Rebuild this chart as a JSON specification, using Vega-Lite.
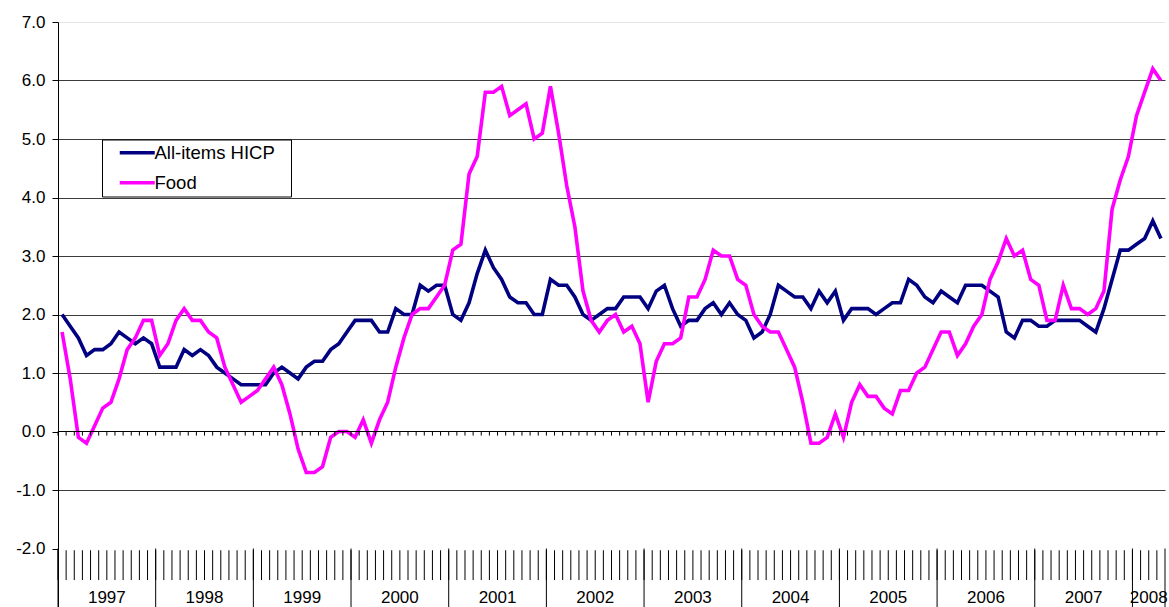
{
"$schema":"https://vega.github.io/schema/vega-lite/v6.json",
"width":1107,"height":585,
"autosize":{"type":"none"},
"padding":{"left":58,"top":22,"right":4,"bottom":0},
"background":"#ffffff",
"config":{"view":{"stroke":null},"font":"Liberation Sans"},
"datasets":{
"months":[
{"m":"1997-01","All-items HICP":2.0,"Food":1.7},{"m":"1997-02","All-items HICP":1.8,"Food":0.9},{"m":"1997-03","All-items HICP":1.6,"Food":-0.1},{"m":"1997-04","All-items HICP":1.3,"Food":-0.2},{"m":"1997-05","All-items HICP":1.4,"Food":0.1},{"m":"1997-06","All-items HICP":1.4,"Food":0.4},{"m":"1997-07","All-items HICP":1.5,"Food":0.5},{"m":"1997-08","All-items HICP":1.7,"Food":0.9},{"m":"1997-09","All-items HICP":1.6,"Food":1.4},{"m":"1997-10","All-items HICP":1.5,"Food":1.6},{"m":"1997-11","All-items HICP":1.6,"Food":1.9},{"m":"1997-12","All-items HICP":1.5,"Food":1.9},
{"m":"1998-01","All-items HICP":1.1,"Food":1.3},{"m":"1998-02","All-items HICP":1.1,"Food":1.5},{"m":"1998-03","All-items HICP":1.1,"Food":1.9},{"m":"1998-04","All-items HICP":1.4,"Food":2.1},{"m":"1998-05","All-items HICP":1.3,"Food":1.9},{"m":"1998-06","All-items HICP":1.4,"Food":1.9},{"m":"1998-07","All-items HICP":1.3,"Food":1.7},{"m":"1998-08","All-items HICP":1.1,"Food":1.6},{"m":"1998-09","All-items HICP":1.0,"Food":1.1},{"m":"1998-10","All-items HICP":0.9,"Food":0.8},{"m":"1998-11","All-items HICP":0.8,"Food":0.5},{"m":"1998-12","All-items HICP":0.8,"Food":0.6},
{"m":"1999-01","All-items HICP":0.8,"Food":0.7},{"m":"1999-02","All-items HICP":0.8,"Food":0.9},{"m":"1999-03","All-items HICP":1.0,"Food":1.1},{"m":"1999-04","All-items HICP":1.1,"Food":0.8},{"m":"1999-05","All-items HICP":1.0,"Food":0.3},{"m":"1999-06","All-items HICP":0.9,"Food":-0.3},{"m":"1999-07","All-items HICP":1.1,"Food":-0.7},{"m":"1999-08","All-items HICP":1.2,"Food":-0.7},{"m":"1999-09","All-items HICP":1.2,"Food":-0.6},{"m":"1999-10","All-items HICP":1.4,"Food":-0.1},{"m":"1999-11","All-items HICP":1.5,"Food":0.0},{"m":"1999-12","All-items HICP":1.7,"Food":0.0},
{"m":"2000-01","All-items HICP":1.9,"Food":-0.1},{"m":"2000-02","All-items HICP":1.9,"Food":0.2},{"m":"2000-03","All-items HICP":1.9,"Food":-0.2},{"m":"2000-04","All-items HICP":1.7,"Food":0.2},{"m":"2000-05","All-items HICP":1.7,"Food":0.5},{"m":"2000-06","All-items HICP":2.1,"Food":1.1},{"m":"2000-07","All-items HICP":2.0,"Food":1.6},{"m":"2000-08","All-items HICP":2.0,"Food":2.0},{"m":"2000-09","All-items HICP":2.5,"Food":2.1},{"m":"2000-10","All-items HICP":2.4,"Food":2.1},{"m":"2000-11","All-items HICP":2.5,"Food":2.3},{"m":"2000-12","All-items HICP":2.5,"Food":2.5},
{"m":"2001-01","All-items HICP":2.0,"Food":3.1},{"m":"2001-02","All-items HICP":1.9,"Food":3.2},{"m":"2001-03","All-items HICP":2.2,"Food":4.4},{"m":"2001-04","All-items HICP":2.7,"Food":4.7},{"m":"2001-05","All-items HICP":3.1,"Food":5.8},{"m":"2001-06","All-items HICP":2.8,"Food":5.8},{"m":"2001-07","All-items HICP":2.6,"Food":5.9},{"m":"2001-08","All-items HICP":2.3,"Food":5.4},{"m":"2001-09","All-items HICP":2.2,"Food":5.5},{"m":"2001-10","All-items HICP":2.2,"Food":5.6},{"m":"2001-11","All-items HICP":2.0,"Food":5.0},{"m":"2001-12","All-items HICP":2.0,"Food":5.1},
{"m":"2002-01","All-items HICP":2.6,"Food":5.9},{"m":"2002-02","All-items HICP":2.5,"Food":5.1},{"m":"2002-03","All-items HICP":2.5,"Food":4.2},{"m":"2002-04","All-items HICP":2.3,"Food":3.5},{"m":"2002-05","All-items HICP":2.0,"Food":2.4},{"m":"2002-06","All-items HICP":1.9,"Food":1.9},{"m":"2002-07","All-items HICP":2.0,"Food":1.7},{"m":"2002-08","All-items HICP":2.1,"Food":1.9},{"m":"2002-09","All-items HICP":2.1,"Food":2.0},{"m":"2002-10","All-items HICP":2.3,"Food":1.7},{"m":"2002-11","All-items HICP":2.3,"Food":1.8},{"m":"2002-12","All-items HICP":2.3,"Food":1.5},
{"m":"2003-01","All-items HICP":2.1,"Food":0.5},{"m":"2003-02","All-items HICP":2.4,"Food":1.2},{"m":"2003-03","All-items HICP":2.5,"Food":1.5},{"m":"2003-04","All-items HICP":2.1,"Food":1.5},{"m":"2003-05","All-items HICP":1.8,"Food":1.6},{"m":"2003-06","All-items HICP":1.9,"Food":2.3},{"m":"2003-07","All-items HICP":1.9,"Food":2.3},{"m":"2003-08","All-items HICP":2.1,"Food":2.6},{"m":"2003-09","All-items HICP":2.2,"Food":3.1},{"m":"2003-10","All-items HICP":2.0,"Food":3.0},{"m":"2003-11","All-items HICP":2.2,"Food":3.0},{"m":"2003-12","All-items HICP":2.0,"Food":2.6},
{"m":"2004-01","All-items HICP":1.9,"Food":2.5},{"m":"2004-02","All-items HICP":1.6,"Food":2.0},{"m":"2004-03","All-items HICP":1.7,"Food":1.8},{"m":"2004-04","All-items HICP":2.0,"Food":1.7},{"m":"2004-05","All-items HICP":2.5,"Food":1.7},{"m":"2004-06","All-items HICP":2.4,"Food":1.4},{"m":"2004-07","All-items HICP":2.3,"Food":1.1},{"m":"2004-08","All-items HICP":2.3,"Food":0.5},{"m":"2004-09","All-items HICP":2.1,"Food":-0.2},{"m":"2004-10","All-items HICP":2.4,"Food":-0.2},{"m":"2004-11","All-items HICP":2.2,"Food":-0.1},{"m":"2004-12","All-items HICP":2.4,"Food":0.3},
{"m":"2005-01","All-items HICP":1.9,"Food":-0.1},{"m":"2005-02","All-items HICP":2.1,"Food":0.5},{"m":"2005-03","All-items HICP":2.1,"Food":0.8},{"m":"2005-04","All-items HICP":2.1,"Food":0.6},{"m":"2005-05","All-items HICP":2.0,"Food":0.6},{"m":"2005-06","All-items HICP":2.1,"Food":0.4},{"m":"2005-07","All-items HICP":2.2,"Food":0.3},{"m":"2005-08","All-items HICP":2.2,"Food":0.7},{"m":"2005-09","All-items HICP":2.6,"Food":0.7},{"m":"2005-10","All-items HICP":2.5,"Food":1.0},{"m":"2005-11","All-items HICP":2.3,"Food":1.1},{"m":"2005-12","All-items HICP":2.2,"Food":1.4},
{"m":"2006-01","All-items HICP":2.4,"Food":1.7},{"m":"2006-02","All-items HICP":2.3,"Food":1.7},{"m":"2006-03","All-items HICP":2.2,"Food":1.3},{"m":"2006-04","All-items HICP":2.5,"Food":1.5},{"m":"2006-05","All-items HICP":2.5,"Food":1.8},{"m":"2006-06","All-items HICP":2.5,"Food":2.0},{"m":"2006-07","All-items HICP":2.4,"Food":2.6},{"m":"2006-08","All-items HICP":2.3,"Food":2.9},{"m":"2006-09","All-items HICP":1.7,"Food":3.3},{"m":"2006-10","All-items HICP":1.6,"Food":3.0},{"m":"2006-11","All-items HICP":1.9,"Food":3.1},{"m":"2006-12","All-items HICP":1.9,"Food":2.6},
{"m":"2007-01","All-items HICP":1.8,"Food":2.5},{"m":"2007-02","All-items HICP":1.8,"Food":1.9},{"m":"2007-03","All-items HICP":1.9,"Food":1.9},{"m":"2007-04","All-items HICP":1.9,"Food":2.5},{"m":"2007-05","All-items HICP":1.9,"Food":2.1},{"m":"2007-06","All-items HICP":1.9,"Food":2.1},{"m":"2007-07","All-items HICP":1.8,"Food":2.0},{"m":"2007-08","All-items HICP":1.7,"Food":2.1},{"m":"2007-09","All-items HICP":2.1,"Food":2.4},{"m":"2007-10","All-items HICP":2.6,"Food":3.8},{"m":"2007-11","All-items HICP":3.1,"Food":4.3},{"m":"2007-12","All-items HICP":3.1,"Food":4.7},
{"m":"2008-01","All-items HICP":3.2,"Food":5.4},{"m":"2008-02","All-items HICP":3.3,"Food":5.8},{"m":"2008-03","All-items HICP":3.6,"Food":6.2},{"m":"2008-04","All-items HICP":3.3,"Food":6.0}
],
"years":[
{"year":"1997","start":"1997-01","mid":"1997-07"},{"year":"1998","start":"1998-01","mid":"1998-07"},{"year":"1999","start":"1999-01","mid":"1999-07"},{"year":"2000","start":"2000-01","mid":"2000-07"},{"year":"2001","start":"2001-01","mid":"2001-07"},{"year":"2002","start":"2002-01","mid":"2002-07"},{"year":"2003","start":"2003-01","mid":"2003-07"},{"year":"2004","start":"2004-01","mid":"2004-07"},{"year":"2005","start":"2005-01","mid":"2005-07"},{"year":"2006","start":"2006-01","mid":"2006-07"},{"year":"2007","start":"2007-01","mid":"2007-07"},{"year":"2008","start":"2008-01","mid":"2008-03"}
]
},
"layer":[
{
"data":{"name":"months"},
"transform":[{"fold":["All-items HICP","Food"],"as":["series","value"]}],
"mark":{"type":"line","strokeWidth":3.6},
"encoding":{
"x":{"field":"m","type":"ordinal","bandPosition":0.5,"axis":null,"scale":{"type":"band","paddingInner":0,"paddingOuter":0}},
"y":{"field":"value","type":"quantitative","scale":{"domain":[-3,7],"nice":false,"zero":false},
"axis":{"title":null,"values":[-2,-1,0,1,2,3,4,5,6,7],"labelExpr":"(datum.value < 0 ? '-' : '') + format(abs(datum.value), '.1f')","labelFont":"Liberation Sans","labelFontSize":17,"labelColor":"#000","tickColor":"#000","tickSize":6,"tickWidth":1,"labelPadding":7,"domainColor":"#000","domainWidth":1,"grid":true,"gridWidth":1,
"gridColor":{"condition":{"test":"datum.value == 7","value":"#e6e6e6"},"value":"#3c3c3c"},
"gridOpacity":{"condition":{"test":"datum.value <= -2 || datum.value == 0","value":0},"value":1}}},
"color":{"field":"series","type":"nominal","scale":{"domain":["All-items HICP","Food"],"range":["#000080","#ff00ff"]},
"legend":{"title":null,"orient":"none","legendX":44,"legendY":117.5,"direction":"vertical","symbolType":"M-3.5,0H3.5","symbolSize":100,"symbolStrokeWidth":3.6,"symbolFillColor":"transparent","labelFont":"Liberation Sans","labelFontSize":18.5,"labelColor":"#000","labelExpr":"datum.label + '\u00a0\u00a0\u200a\u200b'","strokeColor":"#000","fillColor":"#fff","padding":4,"rowPadding":11,"labelOffset":8,"symbolOffset":22}}
}
},
{
"data":{"values":[{}]},
"mark":{"type":"rule","color":"#000","strokeWidth":1},
"encoding":{"y":{"datum":0,"type":"quantitative"}}
},
{
"data":{"name":"months"},
"mark":{"type":"rule","color":"#000","strokeWidth":1},
"encoding":{
"x":{"field":"m","type":"ordinal","bandPosition":0,"axis":null,"scale":{"type":"band","paddingInner":0,"paddingOuter":0}},
"y":{"datum":0,"type":"quantitative"},"y2":{"datum":-0.07}
}
},
{
"data":{"name":"months"},
"mark":{"type":"rule","color":"#000","strokeWidth":1},
"encoding":{
"x":{"field":"m","type":"ordinal","bandPosition":0,"axis":null,"scale":{"type":"band","paddingInner":0,"paddingOuter":0}},
"y":{"datum":-2.03,"type":"quantitative"},"y2":{"datum":-2.54}
}
},
{
"data":{"name":"years"},
"mark":{"type":"rule","color":"#000","strokeWidth":1},
"encoding":{
"x":{"field":"start","type":"ordinal","bandPosition":0,"axis":null,"scale":{"type":"band","paddingInner":0,"paddingOuter":0}},
"y":{"datum":-2.0,"type":"quantitative"},"y2":{"datum":-3.0}
}
},
{
"data":{"values":[{}]},
"mark":{"type":"rule","color":"#000","strokeWidth":1},
"encoding":{
"x":{"datum":"2008-04","type":"ordinal","bandPosition":1,"axis":null,"scale":{"type":"band","paddingInner":0,"paddingOuter":0}},
"y":{"datum":-2.0,"type":"quantitative"},"y2":{"datum":-3.0}
}
},
{
"data":{"name":"years"},
"mark":{"type":"text","font":"Liberation Sans","fontSize":17,"color":"#000","baseline":"middle","align":"center"},
"encoding":{
"x":{"field":"mid","type":"ordinal","bandPosition":0,"axis":null,"scale":{"type":"band","paddingInner":0,"paddingOuter":0}},
"y":{"datum":-2.84,"type":"quantitative"},
"text":{"field":"year"}
}
}
]
}
